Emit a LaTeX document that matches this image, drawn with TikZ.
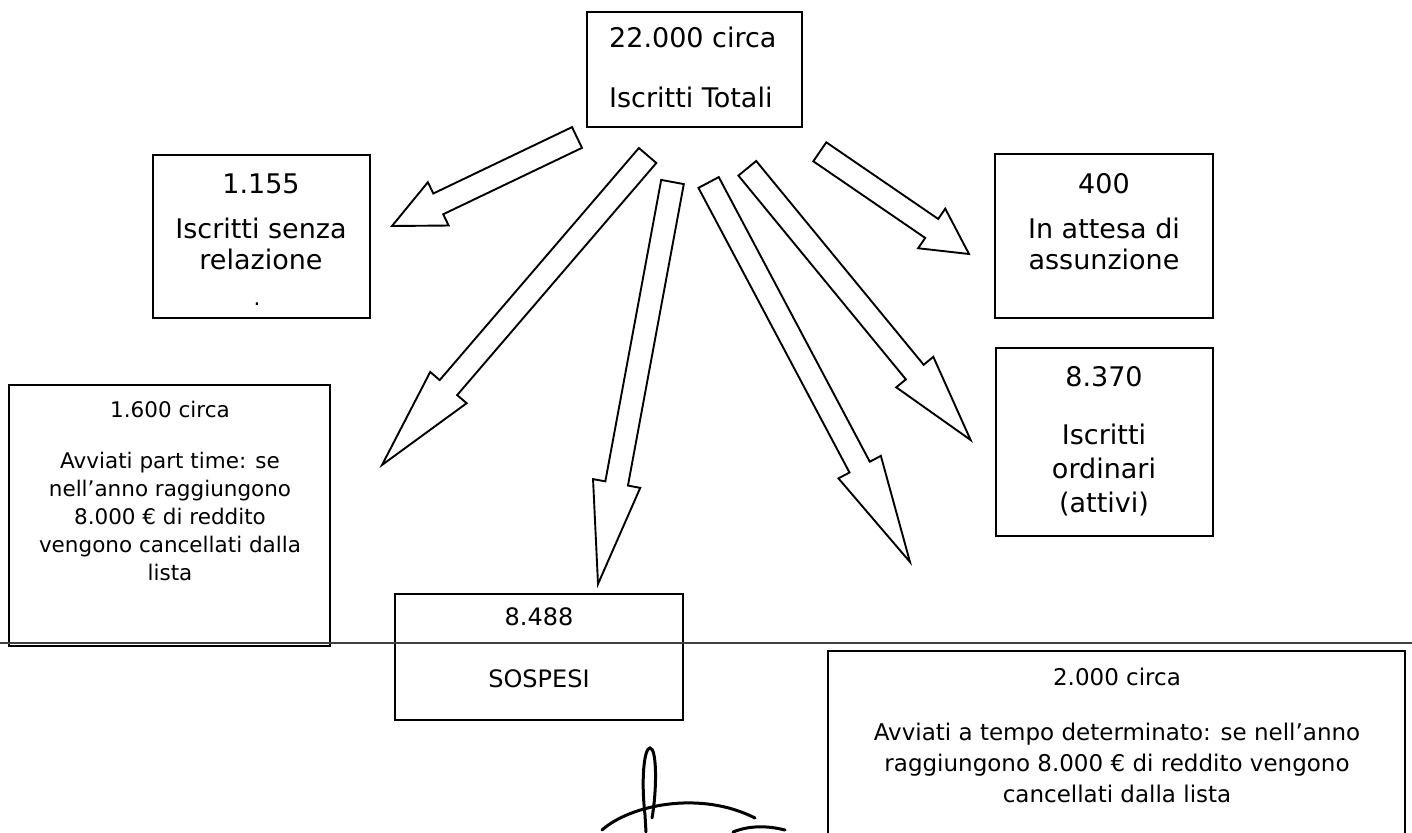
\documentclass[tikz,border=0pt]{standalone}
\usepackage{fontspec}
\setmainfont{DejaVu Sans}
\usetikzlibrary{calc}

\tikzset{
  box/.style={draw,line width=1.9pt,inner sep=0pt},
  bigtxt/.style={font=\fontsize{27}{31}\selectfont,inner sep=0pt},
  midtxt/.style={font=\fontsize{24}{28}\selectfont,inner sep=0pt},
  smalltxt/.style={font=\fontsize{21.5}{28}\selectfont,inner sep=0pt,align=center},
  fatarrow/.style={draw,line width=1.9pt,line join=miter},
  sign/.style={line width=3pt,line cap=round}
}

\begin{document}
\begin{tikzpicture}[x=1pt,y=-1pt]
\useasboundingbox (0,0) rectangle (1412,832);

% boxes
\node [box,minimum width=215,minimum height=115] (tot) at (694.5,69.5) {};
\node [box,minimum width=217,minimum height=163] (senza) at (261.5,236.5) {};
\node [box,minimum width=218,minimum height=164] (att) at (1104,236) {};
\node [box,minimum width=217,minimum height=188] (ord) at (1104.5,442) {};
\node [box,minimum width=321,minimum height=261] (part) at (169.5,515.5) {};
\node [box,minimum width=288,minimum height=126] (sosp) at (539,657) {};
\node [box,minimum width=577,minimum height=200] (det) at (1116.5,751) {};

% texts
\node [bigtxt,anchor=base west] (totN) at (609,48) {22.000 circa};
\node [bigtxt,anchor=base west] (totT) at (609,108) {Iscritti Totali};
\node [bigtxt,anchor=base] (senzaN) at (261,193) {1.155};
\node [bigtxt,anchor=base,align=center] (senzaT) at (261,269) {Iscritti senza\\relazione};
\node [smalltxt,anchor=base] (senzaD) at (257,305) {.};
\node [bigtxt,anchor=base] (attN) at (1104,193) {400};
\node [bigtxt,anchor=base,align=center] (attT) at (1104,269) {In attesa di\\assunzione};
\node [bigtxt,anchor=base] (ordN) at (1104,386) {8.370};
\node [bigtxt,anchor=base,align=center,font=\fontsize{27}{34}\selectfont] (ordT) at (1104,512) {Iscritti\\ordinari\\(attivi)};
\node [smalltxt,anchor=base] (partN) at (170,417) {1.600 circa};
\node [smalltxt,anchor=base] (partT) at (170,580) {Avviati part time: se\\nell’anno raggiungono\\8.000 € di reddito\\vengono cancellati dalla\\lista};
\node [midtxt,anchor=base] (sospN) at (539,625) {8.488};
\node [midtxt,anchor=base] (sospT) at (539,687) {SOSPESI};
\node [smalltxt,anchor=base,font=\fontsize{23}{31}\selectfont] (detN) at (1117,685) {2.000 circa};
\node [smalltxt,anchor=base,font=\fontsize{23}{31}\selectfont] (detT) at (1117,802) {Avviati a tempo determinato: se nell’anno\\raggiungono 8.000 € di reddito vengono\\cancellati dalla lista};

% arrows: tail and tip
\coordinate (senzaA) at (577,137.5);  \coordinate (senzaB) at (392,226);
\coordinate (partA) at (647.6,155.5); \coordinate (partB) at (382,465);
\coordinate (sospA) at (672.5,182);   \coordinate (sospB) at (598,584);
\coordinate (detA) at (708.6,182.5);  \coordinate (detB) at (910,562);
\coordinate (ordA) at (747.3,168.3);  \coordinate (ordB) at (970.6,440);
\coordinate (attA) at (819.8,151.8);  \coordinate (attB) at (969,254);
\foreach \a/\b in {senzaA/senzaB,partA/partB,sospA/sospB,detA/detB,ordA/ordB,attA/attB}
  \draw [fatarrow] let \p1=($(\b)-(\a)$), \n1={atan2(\y1,\x1)}, \n2={veclen(\x1,\y1)} in
    [shift={(\a)},rotate=\n1] (0,-11.5) -- ({0.75*\n2},-11.5) -- ({0.75*\n2},-24)
    -- (\n2,0) -- ({0.75*\n2},24) -- ({0.75*\n2},11.5) -- (0,11.5) -- cycle;

% scan line
\coordinate (cutL) at (0,643);
\coordinate (cutR) at (1412,643);
\draw [line width=1.8pt,black!75] (cutL) -- (cutR);

% signature
\draw [sign] (646,832) -- (645,815) .. controls (641,780) and (644,748) .. (650,748)
  .. controls (657,748) and (657,790) .. (652,818);
\draw [sign] (602,830) .. controls (630,805) and (700,790) .. (755,818);
\draw [sign] (733,832) .. controls (748,826) and (765,825) .. (785,830);
\end{tikzpicture}
\end{document}
